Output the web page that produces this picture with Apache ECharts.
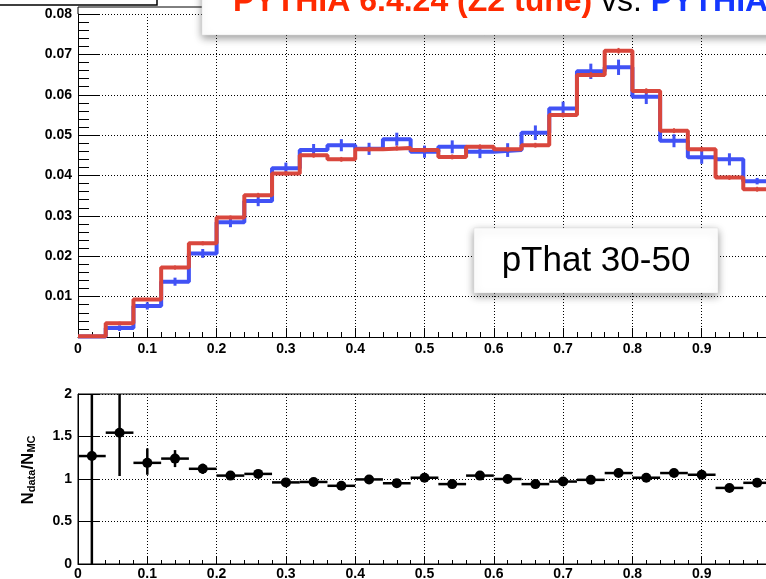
<!DOCTYPE html>
<html>
<head>
<meta charset="utf-8">
<script src="https://cdn.jsdelivr.net/npm/echarts@6/dist/echarts.min.js"></script>
<style>
html,body{margin:0;padding:0;background:#fff;}
#chart{width:766px;height:579px;}
</style>
</head>
<body>
<div id="chart"></div>
<script>
// ---- data ----
const binCenters = [0.02,0.06,0.10,0.14,0.18,0.22,0.26,0.30,0.34,0.38,0.42,0.46,0.50,0.54,0.58,0.62,0.66,0.70,0.74,0.78,0.82,0.86,0.90,0.94,0.98];
const binWidth = 0.04;
// PYTHIA 6.4.24 (Z2 tune) - red
const pythia6 = [0.0002,0.0034,0.0093,0.0172,0.0232,0.0296,0.0351,0.0405,0.0450,0.0440,0.0465,0.0468,0.0463,0.0446,0.0471,0.0465,0.0475,0.0550,0.0649,0.0709,0.0609,0.0511,0.0465,0.0395,0.0366];
const pythia6Err = [0.0001,0.0004,0.0004,0.0005,0.0005,0.0005,0.0006,0.0006,0.0006,0.0006,0.0006,0.0006,0.0006,0.0006,0.0006,0.0006,0.0006,0.0006,0.0007,0.0007,0.0007,0.0006,0.0006,0.0006,0.0006];
// PYTHIA (blue)
const pythia8 = [0.0001,0.0022,0.0077,0.0137,0.0207,0.0284,0.0337,0.0418,0.0463,0.0475,0.0466,0.0490,0.0459,0.0471,0.0459,0.0463,0.0506,0.0566,0.0658,0.0668,0.0595,0.0486,0.0445,0.0440,0.0386];
const pythia8Err = [0.0000,0.0007,0.0009,0.0010,0.0011,0.0012,0.0013,0.0014,0.0015,0.0015,0.0015,0.0016,0.0015,0.0016,0.0016,0.0017,0.0018,0.0017,0.0019,0.0019,0.0018,0.0016,0.0016,0.0015,0.0008];
// ratio N_data/N_MC
const ratio = [1.27,1.545,1.19,1.24,1.12,1.04,1.06,0.96,0.965,0.92,0.995,0.95,1.015,0.94,1.04,1.00,0.94,0.97,0.99,1.07,1.015,1.07,1.05,0.895,0.955];
const ratioErrUp = [1.20,0.60,0.17,0.10,0.06,0.04,0.04,0.03,0.03,0.03,0.03,0.03,0.03,0.03,0.03,0.03,0.03,0.03,0.03,0.03,0.03,0.03,0.03,0.03,0.03];
const ratioErrDown = [1.50,0.51,0.14,0.10,0.06,0.04,0.04,0.03,0.03,0.03,0.03,0.03,0.03,0.03,0.03,0.03,0.03,0.03,0.03,0.03,0.03,0.03,0.03,0.03,0.03];
const titleParts = ['PYTHIA 6.4.24 (Z2 tune)', ' vs. ', 'PYTHIA'];
const boxLabel = 'pThat 30-50';

// ---- build ----
const FONT = "'Liberation Sans', Arial, Helvetica, sans-serif";
const RED = '#d9473d';
const BLUE = '#4152f5';

function stepData(vals){
  const d = binCenters.map((c,i)=>[c - binWidth/2, vals[i]]);
  const n = binCenters.length - 1;
  d.push([binCenters[n] + binWidth/2, vals[n]]);
  return d;
}
function vErrSeries(vals, errs, color, width, z){
  return {
    type:'custom', xAxisIndex:0, yAxisIndex:0, z:z, clip:true, silent:true,
    data: binCenters.map((c,i)=>[c, vals[i], errs[i]]),
    encode:{x:0,y:1},
    renderItem:(params, api)=>{
      const x=api.value(0), y=api.value(1), e=api.value(2);
      const p1=api.coord([x,y-e]), p2=api.coord([x,y+e]);
      return {type:'line', shape:{x1:p1[0],y1:p1[1],x2:p2[0],y2:p2[1]}, style:{stroke:color,lineWidth:width}};
    }
  };
}

const axisLabelStyle = {color:'#000', fontFamily:FONT, fontWeight:'bold', fontSize:14};
const dotted = {color:'#000', width:1, type:[1,2]};

const chart = echarts.init(document.getElementById('chart'), null, {renderer:'canvas'});
const option = {
  animation:false,
  backgroundColor:'#fff',
  grid:[
    {left:78, top:14, width:693, height:323, containLabel:false, outerBoundsMode:'none'},
    {left:78, top:394, width:693, height:170, containLabel:false, outerBoundsMode:'none', show:true, borderColor:'#000', borderWidth:1, backgroundColor:'transparent'}
  ],
  xAxis:[
    {type:'value', gridIndex:0, min:0, max:1, interval:0.1,
     axisLine:{show:true, onZero:false, lineStyle:{color:'#000', width:1}},
     axisTick:{show:true, inside:true, length:9, lineStyle:{color:'#000'}},
     minorTick:{show:true, splitNumber:5, length:5, lineStyle:{color:'#000'}},
     axisLabel:Object.assign({margin:5, hideOverlap:false, formatter:v=>String(+v.toFixed(1))}, axisLabelStyle),
     splitLine:{show:true, lineStyle:dotted}},
    {type:'value', gridIndex:1, min:0, max:1, interval:0.1,
     axisLine:{show:true, onZero:false, lineStyle:{color:'#000', width:1}},
     axisTick:{show:true, inside:true, length:8, lineStyle:{color:'#000'}},
     minorTick:{show:true, splitNumber:5, length:4, lineStyle:{color:'#000'}},
     axisLabel:Object.assign({margin:3, hideOverlap:false, formatter:v=>String(+v.toFixed(1))}, axisLabelStyle),
     splitLine:{show:true, lineStyle:dotted}}
  ],
  yAxis:[
    {type:'value', gridIndex:0, min:0, max:0.08, interval:0.01,
     axisLine:{show:true, onZero:false, lineStyle:{color:'#000', width:1}},
     axisTick:{show:true, inside:true, length:22, lineStyle:{color:'#000'}},
     minorTick:{show:true, splitNumber:5, length:11, lineStyle:{color:'#000'}},
     axisLabel:Object.assign({margin:6, showMinLabel:false, formatter:v=>v.toFixed(2)}, axisLabelStyle),
     splitLine:{show:true, lineStyle:dotted}},
    {type:'value', gridIndex:1, min:0, max:2, interval:0.5,
     axisLine:{show:true, onZero:false, lineStyle:{color:'#000', width:1}},
     axisTick:{show:true, inside:true, length:22, lineStyle:{color:'#000'}},
     axisLabel:Object.assign({margin:6, formatter:v=>String(v)}, axisLabelStyle),
     splitLine:{show:true, lineStyle:dotted}}
  ],
  series:[
    {type:'line', name:'blue', xAxisIndex:0, yAxisIndex:0, step:'end', showSymbol:false, symbol:'none', z:2,
     data:stepData(pythia8), lineStyle:{color:BLUE, width:4}},
    vErrSeries(pythia8, pythia8Err, BLUE, 3, 3),
    {type:'line', name:'red', xAxisIndex:0, yAxisIndex:0, step:'end', showSymbol:false, symbol:'none', z:4,
     data:stepData(pythia6), lineStyle:{color:RED, width:4}},
    vErrSeries(pythia6, pythia6Err, RED, 2, 5),
    {type:'custom', xAxisIndex:1, yAxisIndex:1, z:5, clip:true, silent:true,
     data: binCenters.map((c,i)=>[c, ratio[i], ratioErrDown[i], ratioErrUp[i]]),
     encode:{x:0,y:1},
     renderItem:(params, api)=>{
       const x=api.value(0), y=api.value(1), lo=api.value(2), hi=api.value(3);
       const c=api.coord([x,y]);
       const l=api.coord([x-binWidth/2,y]), r=api.coord([x+binWidth/2,y]);
       const b=api.coord([x,Math.max(0,y-lo)]), t=api.coord([x,Math.min(2,y+hi)]);
       return {type:'group', children:[
         {type:'line', shape:{x1:l[0],y1:l[1],x2:r[0],y2:r[1]}, style:{stroke:'#000',lineWidth:2.5}},
         {type:'line', shape:{x1:b[0],y1:b[1],x2:t[0],y2:t[1]}, style:{stroke:'#000',lineWidth:2.5}},
         {type:'circle', shape:{cx:c[0],cy:c[1],r:5}, style:{fill:'#000'}}
       ]};
     }}
  ],
  graphic:[
    // top frame extension of upper pad
    {type:'line', shape:{x1:78,y1:7,x2:771,y2:7}, style:{stroke:'#000',lineWidth:1}, z:1},
    {type:'line', shape:{x1:78,y1:7,x2:78,y2:14}, style:{stroke:'#000',lineWidth:1}, z:1},
    // legend box (cut off)
    {type:'rect', shape:{x:-2,y:-30,width:159,height:35}, style:{fill:'#fff',stroke:'#000',lineWidth:1.5}, z:10},
    // title box
    {type:'rect', shape:{x:202,y:-30,width:620,height:65}, style:{fill:'#fff', stroke:'#ddd', lineWidth:0.5, shadowBlur:8, shadowColor:'rgba(0,0,0,0.4)', shadowOffsetY:3}, z:10},
    {type:'text', x:233, y:2, z:11, style:{
      text:'{r|'+titleParts[0]+'}{k|'+titleParts[1]+'}{b|'+titleParts[2]+'}',
      verticalAlign:'middle', align:'left',
      rich:{
        r:{fontFamily:FONT, fontWeight:'bold', fontSize:32, fill:'#ff2a00'},
        k:{fontFamily:FONT, fontWeight:'normal', fontSize:32, fill:'#000'},
        b:{fontFamily:FONT, fontWeight:'bold', fontSize:32, fill:'#1438ff'}
      }}},
    // pThat box
    {type:'rect', shape:{x:474,y:228,width:244,height:65}, style:{fill:'#fff', stroke:'#ddd', lineWidth:0.5, shadowBlur:8, shadowColor:'rgba(0,0,0,0.4)', shadowOffsetY:3}, z:10},
    {type:'text', x:596, y:261, z:11, style:{text:boxLabel, fontFamily:FONT, fontSize:35, fill:'#000', align:'center', verticalAlign:'middle'}},
    // ratio axis title
    {type:'text', x:28, y:470, rotation:Math.PI/2, z:11, style:{
      text:'{n|N}{s|data}{n|/N}{s|MC}', align:'center', verticalAlign:'middle',
      rich:{
        n:{fontFamily:FONT, fontWeight:'bold', fontSize:17, fill:'#000', lineHeight:20},
        s:{fontFamily:FONT, fontWeight:'bold', fontSize:11, fill:'#000', lineHeight:20, padding:[8,0,0,0]}
      }}}
  ]
};
chart.setOption(option);
</script>
</body>
</html>
